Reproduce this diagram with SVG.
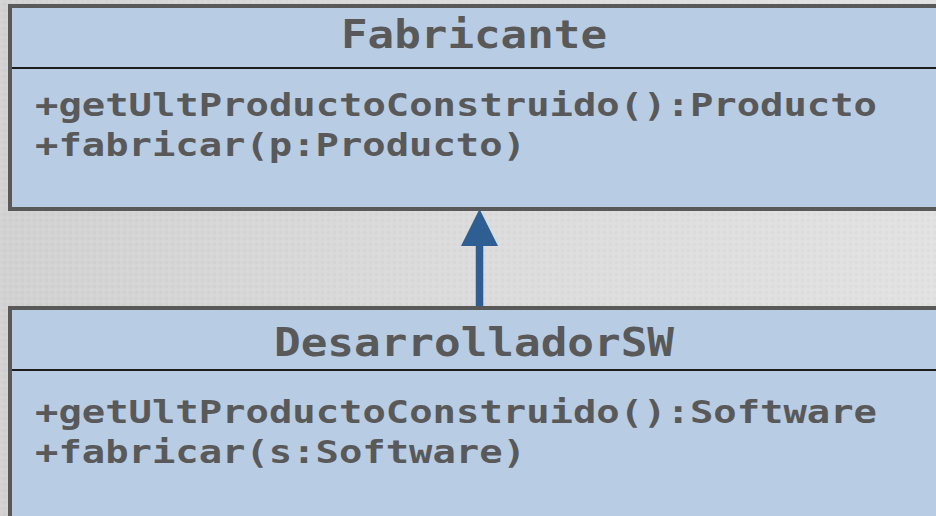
<svg xmlns="http://www.w3.org/2000/svg" width="936" height="516" viewBox="0 0 936 516">
  <defs>
    <linearGradient id="bg" x1="0" y1="0" x2="1" y2="0">
      <stop offset="0" stop-color="#d2d2d2"/>
      <stop offset="0.5" stop-color="#dcdcdc"/>
      <stop offset="1" stop-color="#e2e2e2"/>
    </linearGradient>
    <pattern id="grain" width="6" height="6" patternUnits="userSpaceOnUse">
      <rect width="3" height="3" fill="#ffffff" opacity="0.04"/>
      <rect x="3" y="3" width="3" height="3" fill="#000000" opacity="0.02"/>
    </pattern>
  </defs>
  <style>
    .box { fill: #b8cce4; stroke: #595959; stroke-width: 4; }
    .divider { stroke: #1c1c1c; stroke-width: 2; }
    .title, .member { font-family: "DejaVu Sans Mono", "Liberation Mono", monospace; font-weight: bold; fill: #595959; }
    .title { font-size: 39px; }
    .member { font-size: 32px; }
    .edge { stroke: #2f5e92; stroke-width: 7.5; fill: none; }
    .head { fill: #2f5e92; }
  </style>

  <!-- backdrop -->
  <rect width="936" height="516" fill="url(#bg)"/>
  <rect width="936" height="516" fill="url(#grain)"/>

  <g id="Fabricante">
    <rect class="box" x="10" y="6" width="940" height="203"/>
    <line class="divider" x1="12" y1="68" x2="936" y2="68"/>
    <text class="title" x="341" y="48" textLength="266" lengthAdjust="spacingAndGlyphs">Fabricante</text>
    <text class="member" x="35" y="116" textLength="842" lengthAdjust="spacingAndGlyphs">+getUltProductoConstruido():Producto</text>
    <text class="member" x="35" y="156" textLength="491" lengthAdjust="spacingAndGlyphs">+fabricar(p:Producto)</text>
  </g>

  <g id="DesarrolladorSW">
    <rect class="box" x="10" y="308" width="940" height="230"/>
    <line class="divider" x1="12" y1="370" x2="936" y2="370"/>
    <text class="title" x="274" y="356" textLength="400" lengthAdjust="spacingAndGlyphs">DesarrolladorSW</text>
    <text class="member" x="35" y="423" textLength="842" lengthAdjust="spacingAndGlyphs">+getUltProductoConstruido():Software</text>
    <text class="member" x="35" y="463" textLength="491" lengthAdjust="spacingAndGlyphs">+fabricar(s:Software)</text>
  </g>

  <!-- generalization: DesarrolladorSW extends Fabricante -->
  <g id="connectors">
    <line class="edge" x1="479.5" y1="306" x2="479.5" y2="244"/>
    <path class="head" d="M479.5,209 L498,246 L461,246 Z"/>
  </g>
</svg>
